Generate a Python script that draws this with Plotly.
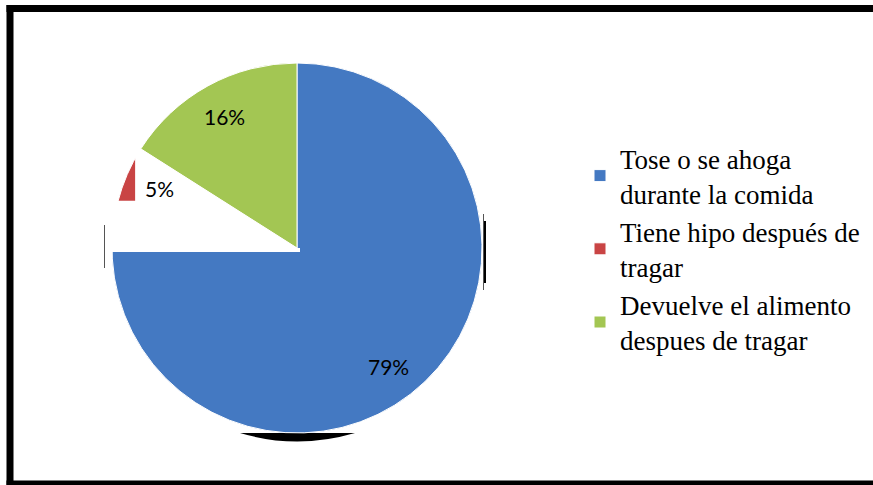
import math
import plotly.graph_objects as go

# Data
categories = [
    "Tose o se ahoga<br>durante la comida",
    "Tiene hipo después de<br>tragar",
    "Devuelve el alimento<br>despues de tragar",
]
values = [79, 5, 16]
colors = ["#4479C2", "#C94444", "#A3C653"]

# Canvas and pie geometry (pixels)
W, H = 873, 485
cx, cy, r = 297, 248, 185


def to_paper(px, py):
    return px / W, 1 - py / H


fig = go.Figure(
    go.Pie(
        labels=categories,
        values=values,
        sort=False,
        direction="clockwise",
        rotation=0,
        marker=dict(colors=colors, line=dict(color="white", width=1)),
        textinfo="none",
        hoverinfo="label+percent",
        domain=dict(x=[(cx - r) / W, (cx + r) / W],
                    y=[1 - (cy + r) / H, 1 - (cy - r) / H]),
    )
)

# Percentage labels placed along each slice bisector
total = sum(values)
annotations = []
start = 0.0
bounds = []
for v in values:
    sweep = 360.0 * v / total
    mid = math.radians(start + sweep / 2)
    px = cx + 0.81 * r * math.sin(mid)
    py = cy - 0.81 * r * math.cos(mid)
    x, y = to_paper(px, py)
    annotations.append(dict(
        x=x, y=y, xref="paper", yref="paper", showarrow=False,
        xanchor="center", yanchor="middle",
        text=f"{round(100 * v / total)}%",
        font=dict(family="Lato", size=21, color="black"),
    ))
    bounds.append((start, start + sweep))
    start += sweep

# White cut-away under the last slice's leading edge
a = math.radians(bounds[-1][0])
dx, dy = math.sin(a), -math.cos(a)
x_step = cx - 0.875 * r
y_step = cy - 0.255 * r
t = (cx - x_step) / abs(dx)
ray_pt = (cx + dx * t, cy + dy * t)
pts = [(cx, cy), (cx + 3, cy), (cx + 3, cy + 4), (cx - r - 3, cy + 4),
       (cx - r - 3, y_step), (x_step, y_step), ray_pt]
path = "M " + " L ".join(f"{p[0] / W:.5f},{1 - p[1] / H:.5f}" for p in pts) + " Z"

shapes = [
    dict(type="path", xref="paper", yref="paper", path=path,
         fillcolor="white", line=dict(width=0), layer="above"),
    # shadow crescent below the pie
    dict(type="path", xref="paper", yref="paper",
         path=(f"M {(cx - 57) / W:.5f},{1 - (cy + r) / H:.5f} "
               f"Q {cx / W:.5f},{1 - (cy + r + 17) / H:.5f} "
               f"{(cx + 58) / W:.5f},{1 - (cy + r) / H:.5f} Z"),
         fillcolor="black", line=dict(width=0), layer="below"),
    # shadow sliver on the right of the pie
    dict(type="rect", xref="paper", yref="paper",
         x0=(cx + r + 1) / W, x1=(cx + r + 4) / W,
         y0=1 - (cy + 35) / H, y1=1 - (cy - 27) / H,
         fillcolor="black", line=dict(width=0), layer="below"),
    dict(type="line", xref="paper", yref="paper",
         x0=(cx + r + 1.5) / W, x1=(cx + r + 1.5) / W,
         y0=1 - (cy + 42) / H, y1=1 - (cy - 34) / H,
         line=dict(color="#555555", width=1), layer="below"),
    dict(type="line", xref="paper", yref="paper",
         x0=(cx - r - 7.5) / W, x1=(cx - r - 7.5) / W,
         y0=1 - (cy + 20) / H, y1=1 - (cy - 23) / H,
         line=dict(color="#555555", width=1), layer="below"),
    # outer frame: left, top and bottom edges
    dict(type="line", xref="paper", yref="paper",
         x0=10 / W, x1=10 / W, y0=0, y1=1 - 5 / H,
         line=dict(color="black", width=7)),
    dict(type="line", xref="paper", yref="paper",
         x0=6.5 / W, x1=1.05, y0=1 - 8.5 / H, y1=1 - 8.5 / H,
         line=dict(color="black", width=7)),
    dict(type="line", xref="paper", yref="paper",
         x0=6.5 / W, x1=1.05, y0=1 / H, y1=1 / H,
         line=dict(color="black", width=7)),
]

fig.update_layout(
    width=W, height=H,
    margin=dict(l=0, r=0, t=0, b=0),
    paper_bgcolor="white",
    plot_bgcolor="white",
    showlegend=True,
    legend=dict(
        x=580 / W, y=1 - 134 / H, xanchor="left", yanchor="top",
        font=dict(family="Liberation Serif", size=27, color="black"),
        bgcolor="rgba(0,0,0,0)",
    ),
    annotations=annotations,
    shapes=shapes,
)

fig.write_html("out.html")
